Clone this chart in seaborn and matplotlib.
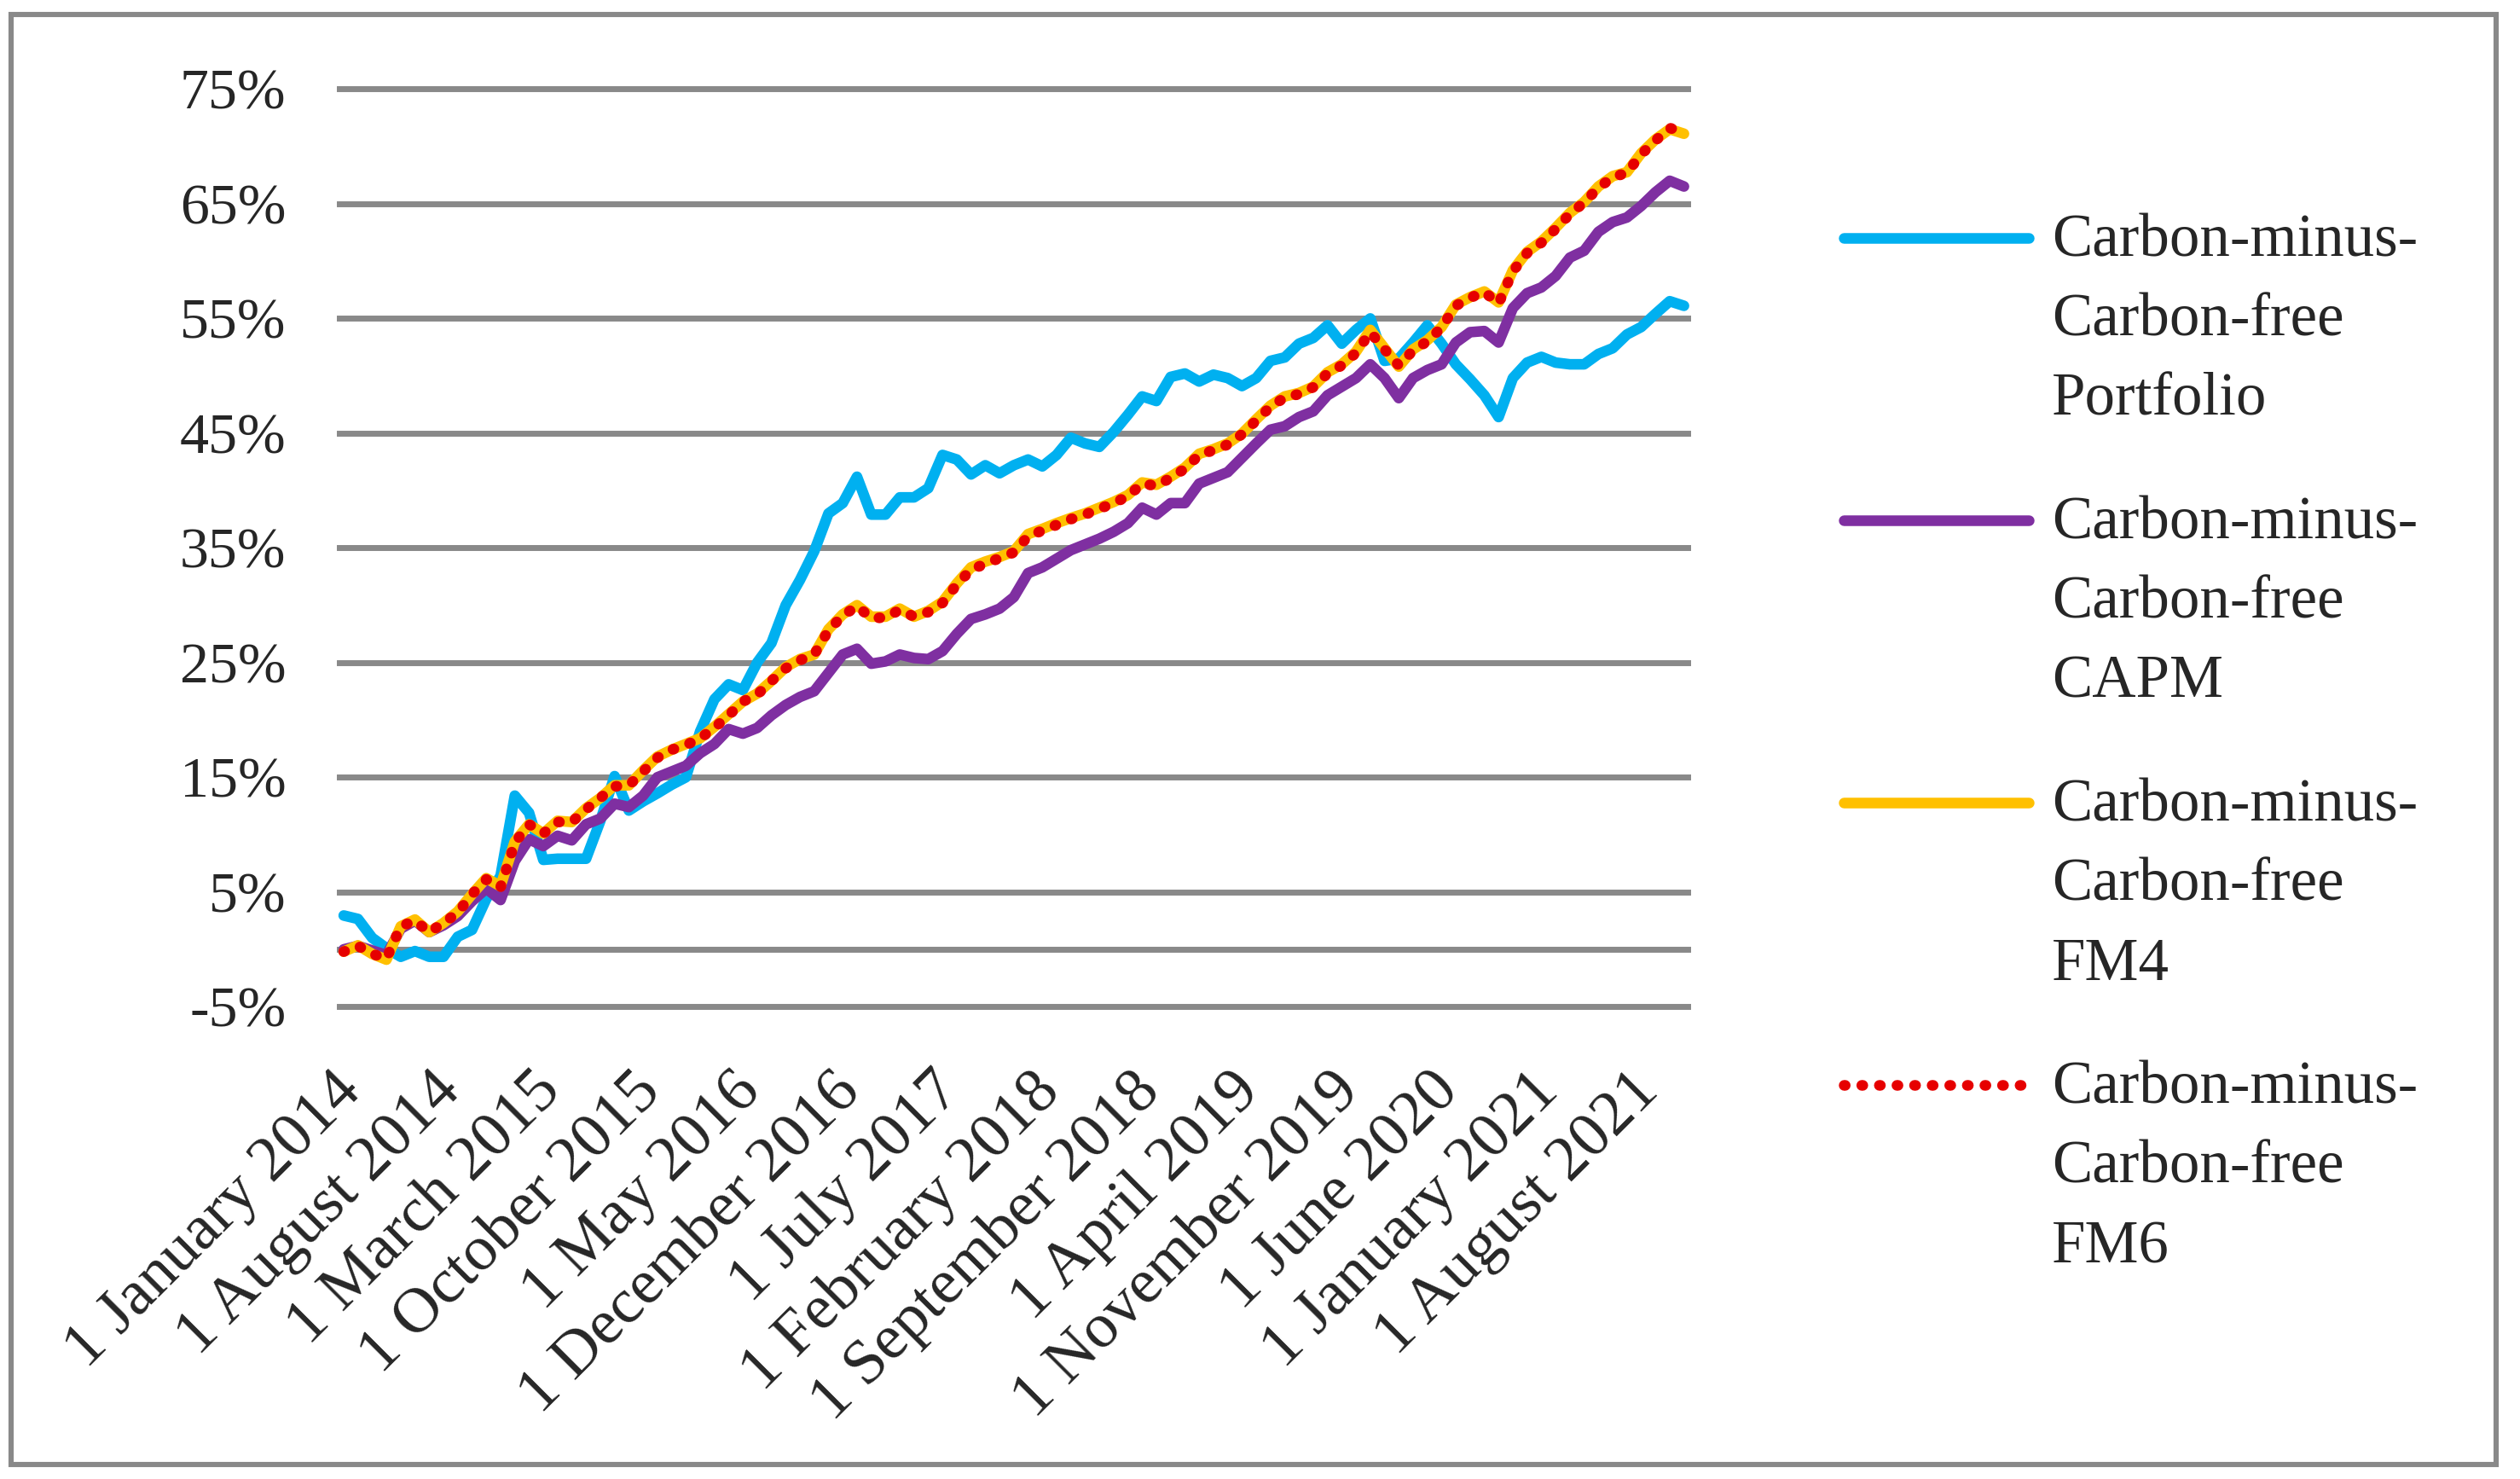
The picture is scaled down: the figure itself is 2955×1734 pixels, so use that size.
import numpy as np
import pandas as pd
import matplotlib
matplotlib.use("Agg")
import matplotlib.pyplot as plt
import matplotlib.ticker as mticker
from matplotlib.legend_handler import HandlerLine2D
from matplotlib.patches import Rectangle
from matplotlib.transforms import ScaledTranslation
import seaborn as sns

# ── Data (cumulative returns, %) ─────────────────────────────────────────────
MONTHS = pd.date_range("2014-01-01", "2021-11-01", freq="MS")
TICK_LABELS = ["1 January 2014", "1 August 2014", "1 March 2015", "1 October 2015",
               "1 May 2016", "1 December 2016", "1 July 2017", "1 February 2018",
               "1 September 2018", "1 April 2019", "1 November 2019", "1 June 2020",
               "1 January 2021", "1 August 2021"]

PORTFOLIO = [2.95, 2.65, 1.0, 0.1, -0.65, -0.15, -0.65, -0.65, 1.1, 1.7,
             4.4, 6.4, 13.4, 11.9, 7.8, 7.9, 7.9, 7.9, 11.2, 15.1,
             12.1, 12.9, 13.6, 14.35, 15.0, 19.0, 21.8, 23.1, 22.6, 25.0,
             26.7, 30.0, 32.2, 34.7, 38.0, 38.9, 41.2, 37.9, 37.9, 39.4,
             39.4, 40.2, 43.1, 42.7, 41.4, 42.2, 41.5, 42.2, 42.7, 42.1,
             43.1, 44.6, 44.1, 43.8, 45.1, 46.6, 48.2, 47.8, 49.9, 50.2,
             49.5, 50.1, 49.8, 49.1, 49.8, 51.3, 51.6, 52.8, 53.3, 54.4,
             52.8, 54.0, 55.0, 51.3, 51.5, 52.9, 54.4, 52.8, 51.0, 49.7,
             48.3, 46.4, 49.8, 51.15, 51.65, 51.15, 51.0, 51.0, 51.9, 52.4,
             53.6, 54.25, 55.4, 56.5, 56.1]

CAPM = [0.0, 0.3, -0.1, -0.5, 1.8, 2.5, 1.5, 2.1, 2.9, 4.2,
        5.3, 4.3, 7.7, 9.6, 9.0, 9.9, 9.5, 10.9, 11.4, 12.7,
        12.4, 13.4, 15.0, 15.5, 16.0, 17.1, 17.9, 19.2, 18.8, 19.3,
        20.4, 21.3, 22.0, 22.5, 24.1, 25.7, 26.2, 24.9, 25.1, 25.7,
        25.4, 25.3, 26.0, 27.5, 28.8, 29.2, 29.7, 30.7, 32.8, 33.3,
        34.05, 34.8, 35.3, 35.8, 36.4, 37.15, 38.5, 37.9, 38.9, 38.9,
        40.6, 41.1, 41.6, 42.85, 44.1, 45.3, 45.6, 46.4, 46.9, 48.3,
        49.05, 49.8, 51.0, 49.8, 48.05, 49.8, 50.5, 51.0, 52.9, 53.8,
        53.9, 52.9, 55.9, 57.2, 57.7, 58.7, 60.3, 60.9, 62.55, 63.4,
        63.8, 64.8, 66.0, 67.0, 66.5]

FM4 = [-0.2, 0.35, -0.4, -0.9, 2.0, 2.6, 1.5, 2.3, 3.3, 4.8,
       6.2, 5.5, 9.4, 10.9, 10.1, 11.2, 11.1, 12.3, 13.2, 14.3,
       14.3, 15.6, 16.8, 17.4, 17.9, 18.4, 19.4, 20.5, 21.6, 22.3,
       23.4, 24.6, 25.3, 25.7, 27.9, 29.2, 30.0, 29.0, 29.0, 29.7,
       29.0, 29.5, 30.3, 31.9, 33.3, 33.8, 34.2, 34.7, 36.2, 36.65,
       37.15, 37.6, 38.0, 38.5, 39.0, 39.6, 40.7, 40.5, 41.2, 42.0,
       43.2, 43.6, 44.1, 44.95, 46.2, 47.4, 48.2, 48.5, 49.05, 50.3,
       51.0, 52.1, 54.0, 52.4, 50.8, 52.3, 53.1, 54.25, 56.2, 56.85,
       57.35, 56.4, 59.2, 60.8, 61.7, 62.9, 64.2, 65.15, 66.5, 67.4,
       67.75, 69.4, 70.6, 71.5, 71.1]

FM6 = [-0.2, 0.3, -0.4, -0.8, 2.0, 2.5, 1.5, 2.3, 3.2, 4.8,
       6.1, 5.4, 9.3, 10.9, 10.1, 11.1, 11.1, 12.2, 13.2, 14.2,
       14.3, 15.5, 16.7, 17.4, 17.8, 18.4, 19.3, 20.4, 21.6, 22.2,
       23.4, 24.5, 25.2, 25.7, 27.8, 29.1, 29.9, 28.9, 28.9, 29.6,
       29.0, 29.4, 30.2, 31.8, 33.1, 33.6, 34.1, 34.6, 36.0, 36.5,
       37.0, 37.5, 37.9, 38.4, 38.9, 39.5, 40.6, 40.4, 41.1, 41.9,
       43.1, 43.5, 44.0, 44.9, 46.1, 47.3, 48.1, 48.4, 49.0, 50.2,
       50.9, 52.0, 53.8, 52.3, 50.9, 52.2, 53.0, 54.2, 56.1, 56.8,
       57.3, 56.3, 59.1, 60.7, 61.6, 62.8, 64.1, 65.1, 66.4, 67.3,
       67.7, 69.3, 70.5, 71.6, 71.2]

SERIES = ["Carbon-minus-\nCarbon-free\nPortfolio",
          "Carbon-minus-\nCarbon-free\nCAPM",
          "Carbon-minus-\nCarbon-free\nFM4",
          "Carbon-minus-\nCarbon-free\nFM6"]
COLORS = ["#00B0F0", "#7F2FA1", "#FFC000", "#E60000"]
Y_TICKS = [-5, 5, 15, 25, 35, 45, 55, 65, 75]

# ── Style ────────────────────────────────────────────────────────────────────
sns.set_theme(style="white")
plt.rcParams.update({
    "font.family": ["Liberation Serif", "DejaVu Serif"],
    "axes.unicode_minus": False,
    "figure.facecolor": "white",
    "axes.facecolor": "white",
})
GRID = "#898989"
FS = 24.5
FS_X = 27
FS_LEG = 25.5
LW = 4.5
KEY_SHIFT = 35.1   # lift legend key from middle to first label line, pt


class FirstLineHandler(HandlerLine2D):
    """Put the legend key level with the first line of a multi-line label."""

    def create_artists(self, legend, orig_handle, xdescent, ydescent,
                       width, height, fontsize, trans):
        arts = super().create_artists(legend, orig_handle, xdescent, ydescent,
                                      width, height, fontsize, trans)
        for a in arts:
            a.set_ydata(np.asarray(a.get_ydata()) + KEY_SHIFT)
        return arts


df = pd.DataFrame({"month": MONTHS, "pos": np.arange(len(MONTHS)),
                   SERIES[0]: PORTFOLIO, SERIES[1]: CAPM,
                   SERIES[2]: FM4, SERIES[3]: FM6})

fig = plt.figure(figsize=(14.775, 8.67), dpi=200)
ax = fig.add_axes([395 / 2955, 1 - 1184.3 / 1734, 1588 / 2955, 1084 / 1734])

for name, col in zip(SERIES[:3], COLORS[:3]):
    sns.lineplot(data=df, x="pos", y=name, color=col, linewidth=LW, label=name,
                 solid_capstyle="round", solid_joinstyle="round", ax=ax)
sns.lineplot(data=df, x="pos", y=SERIES[3], color=COLORS[3], linewidth=LW,
             label=SERIES[3], linestyle=(0, (0.1, 1.55)),
             dash_capstyle="round", dash_joinstyle="round", ax=ax)

# gridlines + zero axis line
ax.set_ylim(-5.3, 75.3)
ax.set_xlim(-0.48, 94.5)
ax.set_yticks(Y_TICKS)
ax.yaxis.set_major_formatter(mticker.FuncFormatter(lambda v, _: f"{v:.0f}%"))
ax.grid(axis="y", color=GRID, linewidth=2.5)
ax.grid(axis="x", visible=False)
ax.set_axisbelow(True)
ax.axhline(0, color=GRID, linewidth=2.5, zorder=1)
for s in ax.spines.values():
    s.set_visible(False)

ax.set_xticks(np.arange(0, len(MONTHS), 7))
ax.set_xticklabels(TICK_LABELS)
ax.tick_params(axis="y", length=0, pad=21.5, labelsize=FS)
ax.tick_params(axis="x", length=0, pad=30.5, labelsize=FS_X)
shift = ScaledTranslation(0.05, 0, fig.dpi_scale_trans)
for lab in ax.get_xticklabels():
    lab.set_rotation(45)
    lab.set_ha("right")
    lab.set_va("center")
    lab.set_rotation_mode("anchor")
    lab.set_transform(lab.get_transform() + shift)
ax.set_xlabel("")
ax.set_ylabel("")

handles, labels = ax.get_legend_handles_labels()
ax.get_legend().remove()
leg = fig.legend(handles, labels, loc="upper left",
                 bbox_to_anchor=(2162 / 2955, 1 - 250 / 1734),
                 frameon=False, fontsize=FS_LEG, borderpad=0, borderaxespad=0,
                 handlelength=3.07, handletextpad=0.38, labelspacing=1.12,
                 handler_map={h: FirstLineHandler() for h in handles})
for t in leg.get_texts():
    t.set_linespacing(1.568)

# outer chart border
fig.add_artist(Rectangle((13 / 2955, 1 - 1717 / 1734), 2914 / 2955, 1700 / 1734,
                         transform=fig.transFigure, fill=False,
                         edgecolor=GRID, linewidth=2.2))

fig.savefig("out.png", dpi=200)
plt.close(fig)
